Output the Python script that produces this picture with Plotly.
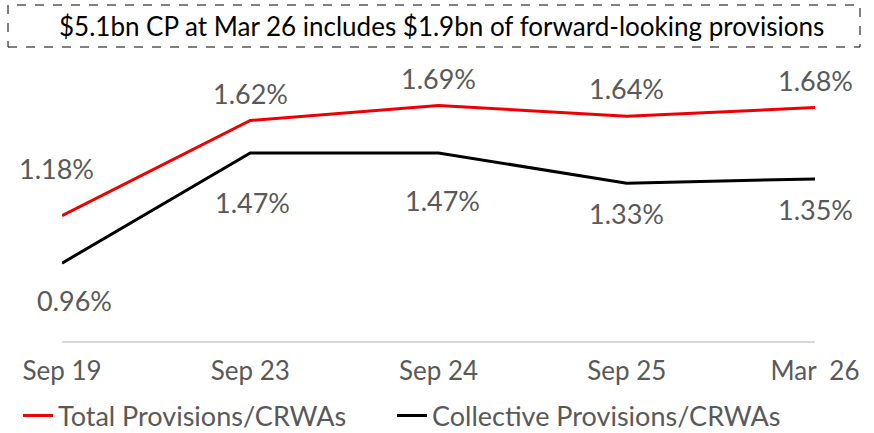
import plotly.graph_objects as go

categories = ["Sep 19", "Sep 23", "Sep 24", "Sep 25", "Mar  26"]
total_prov = [1.18, 1.62, 1.69, 1.64, 1.68]
collective_prov = [0.96, 1.47, 1.47, 1.33, 1.35]
title_text = "$5.1bn CP at Mar 26 includes $1.9bn of forward-looking provisions"

FONT = "Lato"
GREY = "#595959"
RED = "#ee0000"
FS = 26

x = list(range(len(categories)))

fig = go.Figure()
fig.add_trace(go.Scatter(x=x, y=total_prov, mode="lines", name="Total Provisions/CRWAs",
                         line=dict(color=RED, width=3), legend="legend"))
fig.add_trace(go.Scatter(x=x, y=collective_prov, mode="lines", name="Collective Provisions/CRWAs",
                         line=dict(color="#000000", width=3), legend="legend2"))

red_shift = [47, 27, 27, 28, 27]
red_xshift = [-6, 0, 0, 0, 0]
black_shift = [-37, -50, -48, -30, -31]
black_xshift = [12, 2, 4, 0, 0]
for i in x:
    fig.add_annotation(x=i, y=total_prov[i], text=f"{total_prov[i]:.2f}%", showarrow=False,
                       yshift=red_shift[i], xshift=red_xshift[i],
                       xanchor="center", yanchor="middle",
                       font=dict(family=FONT, size=27, color=GREY))
    fig.add_annotation(x=i, y=collective_prov[i], text=f"{collective_prov[i]:.2f}%", showarrow=False,
                       yshift=black_shift[i], xshift=black_xshift[i],
                       xanchor="center", yanchor="middle",
                       font=dict(family=FONT, size=27, color=GREY))

L, R, T, B = 62, 59, 60, 92
PW, PH = 874 - L - R, 433 - T - B

# title box
fig.add_shape(type="rect", xref="paper", yref="paper",
              x0=(8 - L) / PW, x1=(860 - L) / PW,
              y0=(433 - B - 47) / PH, y1=(433 - B - 5) / PH,
              line=dict(color="#000000", width=1, dash="dash"))
fig.add_annotation(xref="paper", yref="paper", x=(441 - L) / PW, y=(433 - B - 26) / PH,
                   xanchor="center", yanchor="middle",
                   text=title_text, showarrow=False,
                   font=dict(family=FONT, size=26, color="#000000"))

legend_common = dict(orientation="h", xref="container", yref="container",
                     y=(433 - 416) / 433, xanchor="left", yanchor="middle",
                     bgcolor="rgba(0,0,0,0)", itemwidth=30,
                     font=dict(family=FONT, size=27, color=GREY))

fig.update_layout(
    width=874, height=433,
    margin=dict(l=L, r=R, t=T, b=B, autoexpand=False),
    paper_bgcolor="white", plot_bgcolor="white",
    font=dict(family=FONT, size=FS, color=GREY),
    xaxis=dict(range=[0, 4], tickmode="array", tickvals=x, ticktext=categories,
               showgrid=False, zeroline=False, showline=True, linecolor="#d9d9d9", linewidth=1.5,
               ticks="", ticklabelstandoff=6, automargin=False,
               tickfont=dict(family=FONT, size=FS, color=GREY)),
    yaxis=dict(range=[0.6, 1.9], visible=False, automargin=False),
    showlegend=True,
    legend=dict(x=18 / 874, **legend_common),
    legend2=dict(x=392 / 874, **legend_common),
)

fig.write_html("out.html", config={"displayModeBar": False},
               post_script="document.body.style.margin='0';")
